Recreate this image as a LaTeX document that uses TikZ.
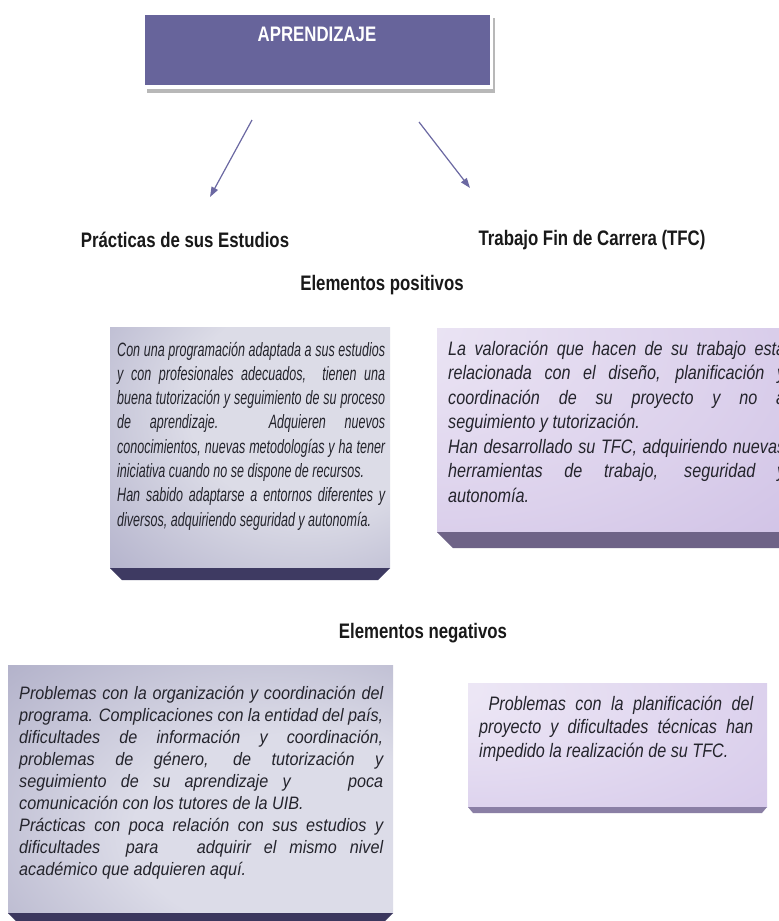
\documentclass[tikz,border=0pt]{standalone}
\usepackage{fontspec}
\setmainfont{Liberation Sans}
\newfontfamily\lpfont{Liberation Sans}[FakeStretch=0.65]
\newfontfamily\bxfont{Liberation Sans}[FakeStretch=0.83]
\newfontfamily\lnfont{Liberation Sans}[FakeStretch=0.9]
\newfontfamily\hdfont{Liberation Sans}[FakeStretch=0.8]
\usetikzlibrary{arrows.meta}
\definecolor{topboxc}{HTML}{67649B}
\definecolor{arrowc}{HTML}{6B68A2}
\definecolor{txtc}{HTML}{24242C}
\definecolor{lpband}{HTML}{3E3A62}
\definecolor{rpband}{HTML}{6E6387}
\definecolor{lnband}{HTML}{3B375E}
\definecolor{rnband}{HTML}{8A7FA5}
\definecolor{lpA}{HTML}{DCDCE7}
\definecolor{lpB}{HTML}{ABAAC6}
\definecolor{lpC}{HTML}{55537F}
\definecolor{lnA}{HTML}{DCDCE8}
\definecolor{lnB}{HTML}{A9A8C3}
\definecolor{lnC}{HTML}{514F7C}
\definecolor{rpA}{HTML}{EFEAF6}
\definecolor{rpB}{HTML}{DCD1EC}
\definecolor{rpC}{HTML}{B29CD6}
\definecolor{rnA}{HTML}{F0EBF7}
\definecolor{rnB}{HTML}{DED4EE}
\definecolor{rnC}{HTML}{C0ABDF}
\pgfdeclareradialshading{lpshade}{\pgfpoint{15bp}{12bp}}{color(0bp)=(lpA); color(22bp)=(lpA); color(50bp)=(lpB); color(82bp)=(lpC)}
\pgfdeclareradialshading{lnshade}{\pgfpoint{15bp}{-12bp}}{color(0bp)=(lnA); color(20bp)=(lnA); color(50bp)=(lnB); color(80bp)=(lnC)}
\pgfdeclareradialshading{rpshade}{\pgfpoint{-40bp}{30bp}}{color(0bp)=(rpA); color(40bp)=(rpB); color(110bp)=(rpC)}
\pgfdeclareradialshading{rnshade}{\pgfpoint{-35bp}{25bp}}{color(0bp)=(rnA); color(40bp)=(rnB); color(110bp)=(rnC)}
\newcommand{\jrow}[1]{\makebox[\linewidth][s]{#1}\par}
\newcommand{\lrow}[1]{\makebox[\linewidth][l]{#1}\par}
\begin{document}
\begin{tikzpicture}[x=1pt,y=-1pt,
  hd/.style={font=\hdfont\bfseries\fontsize{21}{23}\selectfont, text=black!90, inner sep=0pt},
  bodytext/.style={inner sep=0pt, anchor=base west, text=txtc},
  arr/.style={draw=arrowc, line width=1.2pt, -{Triangle[length=10pt,width=7pt]}}]
\useasboundingbox (0,0) rectangle (779,921);
\clip (0,0) rectangle (779,921);
\fill[white] (0,0) rectangle (779,921);

% top box
\fill[black!28] (147,18) rectangle (495,93);
\fill[white] (141,12) rectangle (493,89);
\node[fill=topboxc, inner sep=0pt, minimum width=345pt, minimum height=70pt, anchor=north west] (top) at (145,15) {};
\node[font=\hdfont\bfseries\fontsize{21}{23}\selectfont, text=white, inner sep=0pt] (ttl) at (317,34) {APRENDIZAJE};

% arrows
\coordinate (a1s) at (252,120);
\coordinate (a1e) at (210,197);
\coordinate (a2s) at (419,122);
\coordinate (a2e) at (470,188);
\draw[arr] (a1s) -- (a1e);
\draw[arr] (a2s) -- (a2e);

% headings
\node[hd] (prac) at (185,240) {Prácticas de sus Estudios};
\node[hd] (tfc) at (592,240) {Trabajo Fin de Carrera (TFC)};
\node[hd] (pos) at (382,285) {Elementos positivos};
\node[hd] (neg) at (423,633) {Elementos negativos};

% left positive box
\shade[shading=lpshade] (110,327) rectangle (390,568);
\fill[lpband] (110,568) -- (390,568) -- (378,580) -- (122,580) -- cycle;
\node[bodytext] (lptext) at (117,356) {\parbox[t]{268pt}{\lpfont\itshape\fontsize{19.3}{24.3}\selectfont
\jrow{Con una programación adaptada a sus estudios}
\jrow{y con profesionales adecuados, \ tienen una}
\jrow{buena tutorización y seguimiento de su proceso}
\jrow{de aprendizaje. Adquieren nuevos}
\jrow{conocimientos, nuevas metodologías y ha tener}
\lrow{iniciativa cuando no se dispone de recursos.}
\jrow{Han sabido adaptarse a entornos diferentes y}
\lrow{diversos, adquiriendo seguridad y autonomía.}}};

% right positive box
\shade[shading=rpshade] (437,328) rectangle (800,532);
\fill[rpband] (437,532) -- (800,532) -- (800,548) -- (453,548) -- cycle;
\node[bodytext] (rptext) at (448,355) {\parbox[t]{337pt}{\bxfont\itshape\fontsize{19.5}{24.5}\selectfont
\jrow{La valoración que hacen de su trabajo esta}
\jrow{relacionada con el diseño, planificación y}
\jrow{coordinación de su proyecto y no a}
\lrow{seguimiento y tutorización.}
\jrow{Han desarrollado su TFC, adquiriendo nuevas}
\jrow{herramientas de trabajo, seguridad y}
\lrow{autonomía.}}};

% left negative box
\shade[shading=lnshade] (8,665) rectangle (393,913);
\fill[lnband] (8,913) -- (393,913) -- (381,925) -- (20,925) -- cycle;
\node[bodytext] (lntext) at (19,699) {\parbox[t]{364pt}{\lnfont\itshape\fontsize{18}{22}\selectfont
\jrow{Problemas con la organización y coordinación del}
\jrow{programa. Complicaciones con la entidad del país,}
\jrow{dificultades de información y coordinación,}
\jrow{problemas de género, de tutorización y}
\jrow{seguimiento de su aprendizaje y \ \ \ poca}
\lrow{comunicación con los tutores de la UIB.}
\jrow{Prácticas con poca relación con sus estudios y}
\jrow{dificultades \ para \ \ adquirir el mismo nivel}
\lrow{académico que adquieren aquí.}}};

% right negative box
\shade[shading=rnshade] (468,683) rectangle (767,807);
\fill[rnband] (468,807) -- (767,807) -- (762,813) -- (473,813) -- cycle;
\node[bodytext] (rntext) at (479,710) {\parbox[t]{274pt}{\bxfont\itshape\fontsize{19.5}{23.5}\selectfont
\jrow{\ Problemas con la planificación del}
\jrow{proyecto y dificultades técnicas han}
\lrow{impedido la realización de su TFC.}}};
\end{tikzpicture}
\end{document}
